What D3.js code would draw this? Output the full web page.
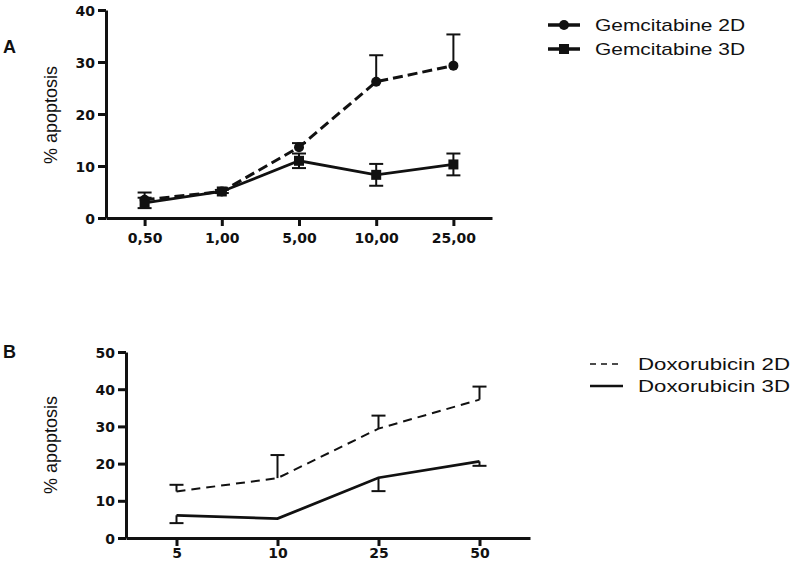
<!DOCTYPE html>
<html>
<head>
<meta charset="utf-8">
<script src="https://cdn.jsdelivr.net/npm/d3@7"></script>
<style>
  body { margin: 0; background: #fff; }
  .tick text { font-family: "DejaVu Sans", sans-serif; font-weight: bold; font-size: 14px; fill: #111; }
  .lbl { font-family: "Liberation Sans", Arial, sans-serif; fill: #111; }
</style>
</head>
<body>
<script>
// panel A - gemcitabine
const gemDoses = ["0,50", "1,00", "5,00", "10,00", "25,00"];
const gem2D = [3.5, 5.1, 13.6, 26.2, 29.3];
const gem2DErr = [1.4, 0, 0.8, 5.1, 6.0];     // upward bars only
const gem3D = [2.9, 5.1, 11.0, 8.3, 10.3];
const gem3DErr = [1.0, 0.3, 1.4, 2.1, 2.1];   // both sides
const gemTicks = [0, 10, 20, 30, 40];

// panel B - doxorubicin
const doxDoses = ["5", "10", "25", "50"];
const dox2D = [12.5, 16.1, 29.4, 37.2];
const dox2DErr = [1.8, 6.2, 3.5, 3.5];        // upward
const dox3D = [6.1, 5.2, 16.2, 20.6];
const dox3DErr = [2.1, 0, 3.6, 1.2];          // downward
const doxTicks = [0, 10, 20, 30, 40, 50];

const W = 800, H = 561;
const svg = d3.select("body").append("svg").attr("width", W).attr("height", H);

const drawAxes = (g, x, y, yTicks, xPad, xDy) => {
  const xAxis = d3.axisBottom(x).tickSize(8).tickPadding(xPad).tickSizeOuter(0);
  const yAxis = d3.axisLeft(y).tickValues(yTicks).tickSize(8).tickPadding(3).tickSizeOuter(0);
  const gx = g.append("g").attr("transform", "translate(0," + y(0) + ")").call(xAxis);
  const gy = g.append("g").attr("transform", "translate(" + x.range()[0] + ",0)").call(yAxis);
  [gx, gy].forEach(a => {
    a.select(".domain").attr("stroke", "#111").attr("stroke-width", 3);
    a.selectAll(".tick line").attr("stroke", "#111").attr("stroke-width", 3);
  });
  gx.selectAll(".tick text").attr("dy", xDy);
  gy.selectAll(".tick text").attr("dy", "0.36em");
};

const errBars = (g, x, y, cats, vals, err, dir, cap) => {
  cats.forEach((c, i) => {
    if (!err[i]) return;
    const cx = x(c);
    if (dir >= 0) {
      g.append("line").attr("x1", cx).attr("x2", cx).attr("y1", y(vals[i])).attr("y2", y(vals[i] + err[i]))
        .attr("stroke", "#111").attr("stroke-width", 2);
      g.append("line").attr("x1", cx - cap).attr("x2", cx + cap).attr("y1", y(vals[i] + err[i])).attr("y2", y(vals[i] + err[i]))
        .attr("stroke", "#111").attr("stroke-width", 2);
    }
    if (dir <= 0) {
      g.append("line").attr("x1", cx).attr("x2", cx).attr("y1", y(vals[i])).attr("y2", y(vals[i] - err[i]))
        .attr("stroke", "#111").attr("stroke-width", 2);
      g.append("line").attr("x1", cx - cap).attr("x2", cx + cap).attr("y1", y(vals[i] - err[i])).attr("y2", y(vals[i] - err[i]))
        .attr("stroke", "#111").attr("stroke-width", 2);
    }
  });
};

const series = (g, x, y, cats, vals, width, dash) => {
  g.append("path").datum(vals)
    .attr("fill", "none").attr("stroke", "#111").attr("stroke-width", width)
    .attr("stroke-dasharray", dash)
    .attr("d", d3.line().x((d, i) => x(cats[i])).y(d => y(d)));
};

//----- panel A
const gA = svg.append("g");
const xA = d3.scalePoint().domain(gemDoses).range([106, 492]).padding(0.5);
const yA = d3.scaleLinear().domain([0, 40]).range([218, 10]);

errBars(gA, xA, yA, gemDoses, gem2D, gem2DErr, 1, 7);
errBars(gA, xA, yA, gemDoses, gem3D, gem3DErr, 0, 7);
series(gA, xA, yA, gemDoses, gem3D, 2.8, null);
series(gA, xA, yA, gemDoses, gem2D, 3, "10,5");
gA.selectAll(".dot").data(gem2D).join("circle")
  .attr("cx", (d, i) => xA(gemDoses[i])).attr("cy", d => yA(d)).attr("r", 5).attr("fill", "#111");
gA.selectAll(".sq").data(gem3D).join("rect")
  .attr("x", (d, i) => xA(gemDoses[i]) - 5).attr("y", d => yA(d) - 5)
  .attr("width", 10).attr("height", 10).attr("fill", "#111");
drawAxes(gA, xA, yA, gemTicks, 4, "0.95em");

gA.append("text").attr("class", "lbl").attr("x", 3).attr("y", 53)
  .attr("font-size", 18).attr("font-weight", "bold").text("A");
gA.append("text").attr("class", "lbl")
  .attr("transform", "translate(57,115) rotate(-90)")
  .attr("text-anchor", "middle").attr("font-size", 18).text("% apoptosis");

// legend A
const legA = [["Gemcitabine 2D", "circle"], ["Gemcitabine 3D", "square"]];
legA.forEach((l, i) => {
  const ly = 25 + i * 24;
  gA.append("line").attr("x1", 548).attr("x2", 580).attr("y1", ly).attr("y2", ly)
    .attr("stroke", "#111").attr("stroke-width", 3.5);
  if (l[1] === "circle") gA.append("circle").attr("cx", 564).attr("cy", ly).attr("r", 5).attr("fill", "#111");
  else gA.append("rect").attr("x", 559).attr("y", ly - 5).attr("width", 10).attr("height", 10).attr("fill", "#111");
  gA.append("text").attr("class", "lbl").attr("x", 595).attr("y", ly + 6)
    .attr("font-size", 17).attr("textLength", 150).attr("lengthAdjust", "spacingAndGlyphs").text(l[0]);
});

//----- panel B
const gB = svg.append("g");
const xB = d3.scalePoint().domain(doxDoses).range([126, 530]).padding(0.5);
const yB = d3.scaleLinear().domain([0, 50]).range([538, 352]);

errBars(gB, xB, yB, doxDoses, dox2D, dox2DErr, 1, 7);
errBars(gB, xB, yB, doxDoses, dox3D, dox3DErr, -1, 7);
series(gB, xB, yB, doxDoses, dox2D, 2, "9,6");
series(gB, xB, yB, doxDoses, dox3D, 2.8, null);
drawAxes(gB, xB, yB, doxTicks, 2, "0.72em");

gB.append("text").attr("class", "lbl").attr("x", 3).attr("y", 358)
  .attr("font-size", 18).attr("font-weight", "bold").text("B");
gB.append("text").attr("class", "lbl")
  .attr("transform", "translate(57,445) rotate(-90)")
  .attr("text-anchor", "middle").attr("font-size", 18).text("% apoptosis");

// legend B
const legB = [["Doxorubicin 2D", "6,5"], ["Doxorubicin 3D", null]];
legB.forEach((l, i) => {
  const ly = 364 + i * 22;
  gB.append("line").attr("x1", 590).attr("x2", 623).attr("y1", ly).attr("y2", ly)
    .attr("stroke", "#111").attr("stroke-width", l[1] ? 1.5 : 2.5).attr("stroke-dasharray", l[1]);
  gB.append("text").attr("class", "lbl").attr("x", 638).attr("y", ly + 6)
    .attr("font-size", 17).attr("textLength", 152).attr("lengthAdjust", "spacingAndGlyphs").text(l[0]);
});
</script>
</body>
</html>
